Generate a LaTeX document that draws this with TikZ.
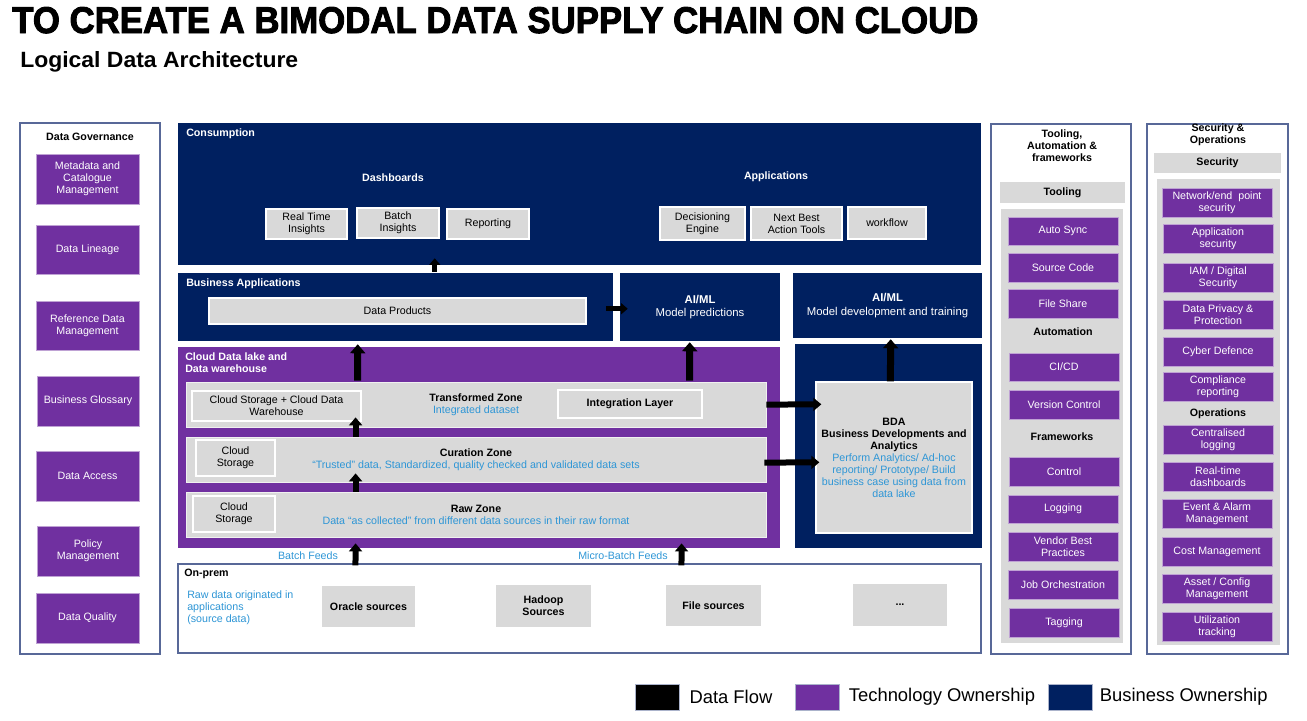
\documentclass[tikz,border=0pt]{standalone}
\usepackage{fontspec}
\setmainfont{Liberation Sans}
\newfontfamily\heavyfont[BoldFeatures={FakeBold=2.5}]{Liberation Sans}
\usetikzlibrary{arrows.meta,calc,positioning}
\definecolor{navy}{RGB}{0,32,96}
\definecolor{techpurple}{RGB}{112,48,160}
\definecolor{lightgrey}{RGB}{217,217,217}
\definecolor{framecol}{RGB}{88,104,152}
\definecolor{noteblue}{RGB}{46,150,214}
\newcommand{\bluetxt}[1]{\textcolor{noteblue}{#1}}
\tikzset{
  corners/.style n args={4}{anchor=center, at={({(#1+#3)/2},{(#2+#4)/2})},
    minimum width={(#3-#1)*0.75pt}, minimum height={(#4-#2)*0.75pt}},
  area/.style={inner sep=0pt, draw=none},
  navyarea/.style={area, fill=navy},
  purplearea/.style={area, fill=techpurple},
  panel/.style={inner sep=0pt, draw=framecol, line width=0.8pt, fill=white},
  zone/.style={inner sep=0pt, fill=lightgrey, draw=white!60!lightgrey, line width=0.6pt},
  greybox/.style={inner sep=0pt, fill=lightgrey, draw=white, line width=1pt},
  purplebox/.style={inner sep=0pt, fill=techpurple, draw=techpurple!45!white, line width=0.7pt, text=white},
  hd/.style={font=\bfseries\fontsize{8}{9}\selectfont},
  whd/.style={hd, text=white},
  note/.style={text=noteblue},
  flowS/.style={draw=black, line width=3.75pt, -{Triangle[width=8.25pt,length=5pt]}},
  flowM/.style={draw=black, line width=4.5pt, -{Triangle[width=9.75pt,length=6pt]}},
  flowL/.style={draw=black, line width=5.25pt, -{Triangle[width=11.25pt,length=6.75pt]}},
  legtxt/.style={font=\fontsize{13.8}{16}\selectfont, inner sep=0pt}
}
\begin{document}
\begin{tikzpicture}[x=0.75pt,y=-0.75pt,
  every node/.style={font=\fontsize{8}{9}\selectfont, inner sep=0pt, align=center}]
\useasboundingbox (0,0) rectangle (1307,721);

\node[anchor=base west] (title) at (12,33) {\resizebox{724.5pt}{19.5pt}{\heavyfont\bfseries TO CREATE A BIMODAL DATA SUPPLY CHAIN ON CLOUD}};
\node[anchor=base west] (subtitle) at (20,67) {\resizebox{208.5pt}{12pt}{\bfseries Logical Data Architecture}};

\node[panel, corners={20}{123}{160}{654}] (gov) {};
\node[hd] (govt) at (90,137) {Data Governance};
\node[purplebox, corners={36}{154}{139}{204}] (meta) {Metadata and\\Catalogue\\Management};
\node[purplebox, corners={36}{225}{139}{274}] (lineage) {Data Lineage};
\node[purplebox, corners={36}{301}{139}{350}] (refdata) {Reference Data\\Management};
\node[purplebox, corners={37}{376}{139}{426}] (glossary) {Business Glossary};
\node[purplebox, corners={36}{451}{139}{501}] (access) {Data Access};
\node[purplebox, corners={37}{526}{139}{576}] (policy) {Policy\\Management};
\node[purplebox, corners={36}{593}{139}{643}] (quality) {Data Quality};

\node[navyarea, corners={178}{123}{981}{265}] (cons) {};
\node[whd, anchor=west] (const) at (186,134) {Consumption};
\node[whd] (dash) at (393,178) {Dashboards};
\node[whd] (apps) at (776,177) {Applications};
\node[greybox, corners={266}{209}{347}{239}] (rti) {Real Time\\Insights};
\node[greybox, corners={357}{208}{439}{238}] (bins) {Batch\\Insights};
\node[greybox, corners={447}{209}{529}{239}] (rep) {Reporting};
\node[greybox, corners={660}{207}{745}{240}] (dec) {Decisioning\\Engine};
\node[greybox, corners={751}{207}{842}{240}] (nba) {Next Best\\Action Tools};
\node[greybox, corners={848}{207}{926}{239}] (wf) {workflow};

\node[navyarea, corners={178}{273}{613}{341}] (bapp) {};
\node[whd, anchor=west] (bappt) at (186,284) {Business Applications};
\node[greybox, corners={209}{298}{586}{324}] (dprod) {Data Products};
\node[navyarea, text=white, font=\fontsize{8.5}{10}\selectfont, corners={620}{273}{780}{341}] (aimlp) {\textbf{AI/ML}\\Model predictions};
\node[navyarea, text=white, font=\fontsize{8.5}{10}\selectfont, corners={793}{273}{982}{338}] (aimld) {\textbf{AI/ML}\\Model development and training};

\node[purplearea, corners={178}{347}{780}{548}] (lake) {};
\node[whd, anchor=north west, align=left] (laket) at (185,353) {Cloud Data lake and\\Data warehouse};
\node[zone, corners={186}{382}{766}{427}] (trz) {};
\node[greybox, corners={192}{391}{361}{421}] (cscdw) {Cloud Storage + Cloud Data\\Warehouse};
\node (trzt) at (476,404.5) {\textbf{Transformed Zone}\\\bluetxt{Integrated dataset}};
\node[greybox, hd, corners={558}{390}{702}{418}] (intl) {Integration Layer};
\node[zone, corners={186}{437}{766}{482}] (cur) {};
\node[greybox, corners={196}{440}{275}{476}] (cscur) {Cloud\\Storage};
\node (curt) at (476,459.5) {\textbf{Curation Zone}\\\bluetxt{``Trusted'' data, Standardized, quality checked and validated data sets}};
\node[zone, corners={186}{492}{766}{537}] (raw) {};
\node[greybox, corners={193}{496}{275}{532}] (csraw) {Cloud\\Storage};
\node (rawt) at (476,514.5) {\textbf{Raw Zone}\\\bluetxt{Data ``as collected'' from different data sources in their raw format}};
\node[note] (batch) at (308,556) {Batch Feeds};
\node[note] (micro) at (623,556) {Micro-Batch Feeds};

\node[navyarea, corners={795}{344}{982}{548}] (bdareg) {};
\node[greybox, corners={816}{382}{972}{533}] (bda) {\textbf{BDA}\\\textbf{Business Developments and}\\\textbf{Analytics}\\\bluetxt{Perform Analytics/ Ad-hoc}\\\bluetxt{reporting/ Prototype/ Build}\\\bluetxt{business case using data from}\\\bluetxt{data lake}};

\node[panel, corners={178}{564}{981}{653}] (onprem) {};
\node[hd, anchor=west] (onpremt) at (184,574) {On-prem};
\node[note, anchor=north west, align=left] (rawnote) at (187,590) {Raw data originated in\\applications\\(source data)};
\node[area, fill=lightgrey, hd, corners={322}{586}{415}{627}] (oracle) {Oracle sources};
\node[area, fill=lightgrey, hd, corners={496}{585}{591}{627}] (hadoop) {Hadoop\\Sources};
\node[area, fill=lightgrey, hd, corners={666}{585}{761}{626}] (files) {File sources};
\node[area, fill=lightgrey, hd, corners={853}{584}{947}{626}] (more) {...};

\node[panel, corners={991}{124}{1131}{654}] (tool) {};
\node[hd] (toolt) at (1062,146) {Tooling,\\Automation \&\\frameworks};
\node[area, fill=lightgrey, hd, corners={1000}{182}{1125}{203}] (toolhd) {Tooling};
\node[area, fill=lightgrey, corners={1001}{209}{1123}{643}] (toolin) {};
\node[purplebox, corners={1008}{217}{1118}{245}] (autosync) {Auto Sync};
\node[purplebox, corners={1008}{253}{1118}{282}] (srccode) {Source Code};
\node[purplebox, corners={1008}{289}{1118}{318}] (fileshare) {File Share};
\node[hd] (autot) at (1063,332) {Automation};
\node[purplebox, corners={1009}{353}{1119}{381}] (cicd) {CI/CD};
\node[purplebox, corners={1009}{390}{1119}{419}] (vcs) {Version Control};
\node[hd] (framet) at (1062,437) {Frameworks};
\node[purplebox, corners={1009}{457}{1119}{486}] (control) {Control};
\node[purplebox, corners={1008}{495}{1118}{523}] (logging) {Logging};
\node[purplebox, corners={1008}{532}{1118}{561}] (vendor) {Vendor Best\\Practices};
\node[purplebox, corners={1008}{570}{1118}{599}] (joborch) {Job Orchestration};
\node[purplebox, corners={1009}{608}{1119}{637}] (tagging) {Tagging};

\node[panel, corners={1147}{124}{1288}{654}] (sec) {};
\node[hd] (sect) at (1218,135) {Security \&\\Operations};
\node[area, fill=lightgrey, hd, corners={1154}{153}{1281}{173}] (sechd) {Security};
\node[area, fill=lightgrey, corners={1157}{179}{1280}{645}] (secin) {};
\node[purplebox, corners={1162}{188}{1272}{217}] (netsec) {Network/end \ point\\security};
\node[purplebox, corners={1163}{224}{1273}{253}] (appsec) {Application\\security};
\node[purplebox, corners={1163}{263}{1273}{292}] (iam) {IAM / Digital\\Security};
\node[purplebox, corners={1163}{300}{1273}{329}] (privacy) {Data Privacy \&\\Protection};
\node[purplebox, corners={1163}{337}{1273}{366}] (cyber) {Cyber Defence};
\node[purplebox, corners={1163}{372}{1273}{401}] (compl) {Compliance\\reporting};
\node[hd] (opst) at (1218,414) {Operations};
\node[purplebox, corners={1163}{425}{1273}{454}] (centlog) {Centralised\\logging};
\node[purplebox, corners={1163}{462}{1273}{491}] (rtdash) {Real-time\\dashboards};
\node[purplebox, corners={1162}{499}{1272}{528}] (event) {Event \& Alarm\\Management};
\node[purplebox, corners={1162}{537}{1272}{566}] (cost) {Cost Management};
\node[purplebox, corners={1162}{574}{1272}{603}] (asset) {Asset / Config\\Management};
\node[purplebox, corners={1162}{612}{1272}{641}] (util) {Utilization\\tracking};

\draw[flowS] ($(bapp.north west)+(257,-1)$) -- ($(cons.south west)+(257,-7)$);
\draw[flowL] ($(trz.north west)+(172,-1)$) -- ($(bapp.south west)+(180,3)$);
\draw[flowL] ($(trz.north west)+(504,-1)$) -- ($(aimlp.south west)+(70,1)$);
\draw[flowM] ($(cur.north west)+(170,0)$) -- ($(trz.south west)+(170,-10)$);
\draw[flowM] ($(raw.north west)+(170,0)$) -- ($(cur.south west)+(170,-9)$);
\draw[flowM] ($(onprem.north west)+(178,2)$) -- ($(raw.south west)+(170,6)$);
\draw[flowM] ($(onprem.north west)+(504,2)$) -- ($(raw.south west)+(496,6)$);
\draw[flowL] ($(bda.north west)+(75,0)$) -- ($(aimld.south west)+(98,1)$);
\draw[flowS] ($(bapp.north east)+(-7,36)$) -- ($(aimlp.north west)+(8,36)$);
\draw[flowM] ($(trz.north east)+(0,23)$) -- ($(bda.north west)+(6,23)$);
\draw[flowM] ($(cur.north east)+(-2,26)$) -- ($(bda.north west)+(4,81)$);

\node[area, fill=black, draw=framecol!50, corners={635}{684}{679}{710}] (lgflow) {};
\node[legtxt, right=7.5pt of lgflow] (lgflowt) {Data Flow};
\node[area, fill=techpurple, draw=framecol!50, corners={795}{684}{839}{710}] (lgtech) {};
\node[legtxt, right=7pt of lgtech] (lgtecht) {Technology Ownership};
\node[area, fill=navy, draw=framecol!50, corners={1048}{684}{1092}{710}] (lgbus) {};
\node[legtxt, right=5.5pt of lgbus] (lgbust) {Business Ownership};
\end{tikzpicture}
\end{document}
